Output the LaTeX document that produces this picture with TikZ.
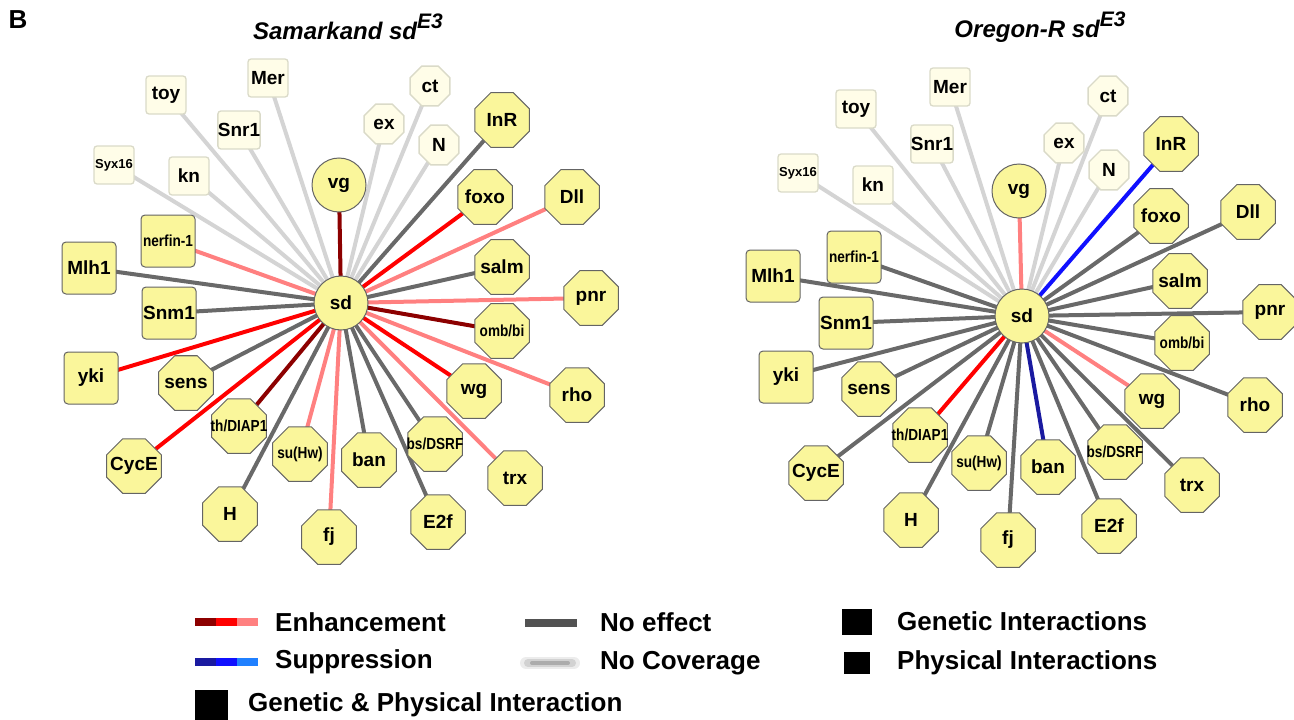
\documentclass[tikz,border=0pt]{standalone}
\usepackage{fontspec}
\setmainfont{Liberation Sans}
\newfontfamily\narrowfont[FakeStretch=0.85]{Liberation Sans}
\usetikzlibrary{shapes.geometric}

\definecolor{yfill}{RGB}{250,246,155}
\definecolor{yline}{RGB}{100,100,100}
\definecolor{palefill}{RGB}{255,253,232}
\definecolor{paleline}{RGB}{218,218,200}
\definecolor{nocovc}{RGB}{212,212,212}
\definecolor{noeffc}{RGB}{105,105,105}
\definecolor{enhA}{RGB}{140,0,0}
\definecolor{enhB}{RGB}{255,0,0}
\definecolor{enhC}{RGB}{255,128,128}
\definecolor{supA}{RGB}{26,26,160}
\definecolor{supB}{RGB}{16,16,255}
\definecolor{supC}{RGB}{32,128,255}

\pgfdeclarelayer{bg}
\pgfsetlayers{bg,main}

\tikzset{
    lbl/.style={font=\bfseries\fontsize{19}{19}\selectfont, inner sep=0pt},
    thin lbl/.style={font=\narrowfont\bfseries\fontsize{16}{16}\selectfont, inner sep=-12pt},
    palebox/.style={lbl, draw=paleline, fill=palefill, line width=1.3pt, rounded corners=3pt, minimum width=40pt, minimum height=38pt},
    paleocto/.style={lbl, regular polygon, regular polygon sides=8, draw=paleline, fill=palefill, line width=1.3pt, minimum size=43pt},
    ybox/.style={lbl, draw=yline, fill=yfill, line width=1pt, rounded corners=4pt, minimum width=54pt, minimum height=52pt},
    octo/.style={lbl, regular polygon, regular polygon sides=8, draw=yline, fill=yfill, line width=1pt, minimum size=59pt, inner sep=-8pt},
    circ/.style={lbl, circle, draw=yline, fill=yfill, line width=1pt, minimum size=54pt},
    link/.style={line width=4pt},
    nocovlink/.style={link, draw=nocovc},
    noefflink/.style={link, draw=noeffc},
    enhAlink/.style={link, draw=enhA},
    enhBlink/.style={link, draw=enhB},
    enhClink/.style={link, draw=enhC},
    supAlink/.style={link, draw=supA},
    supBlink/.style={link, draw=supB},
    legtext/.style={anchor=west, inner sep=0pt, font=\bfseries\fontsize{26}{26}\selectfont}
}

\begin{document}
\begin{tikzpicture}[x=1pt, y=-1pt]
    \useasboundingbox (0,0) rectangle (1294,720);

    % headings
    \node[font=\bfseries\fontsize{26}{26}\selectfont] (panel) at (18,20) {B};
    \node[font=\bfseries\itshape\fontsize{24}{24}\selectfont] (s-title) at (348,27)
        {Samarkand sd\raisebox{0.45em}{\fontsize{21}{21}\selectfont E3}};
    \node[font=\bfseries\itshape\fontsize{24}{24}\selectfont] (o-title) at (1040,27)
        {Oregon-R sd\raisebox{0.45em}{\fontsize{21}{21}\selectfont E3}};

    % Samarkand network
    \node[circ] (s-sd) at (341,303) {sd};
    \node[circ] (s-vg) at (339,185) {vg};
    \node[palebox] (s-toy) at (166,95) {toy};
    \node[palebox] (s-Mer) at (268,78) {Mer};
    \node[palebox] (s-Snr1) at (239,130) {Snr1};
    \node[palebox, font=\bfseries\fontsize{13}{13}\selectfont] (s-Syx16) at (114,165) {Syx16};
    \node[palebox] (s-kn) at (189,176) {kn};
    \node[paleocto] (s-ex) at (384,124) {ex};
    \node[paleocto] (s-ct) at (430,86) {ct};
    \node[paleocto] (s-N) at (439,145) {N};
    \node[octo] (s-InR) at (502,120) {InR};
    \node[octo] (s-foxo) at (485,197) {foxo};
    \node[octo] (s-Dll) at (572,197) {Dll};
    \node[ybox, thin lbl] (s-nerfin) at (168,241) {nerfin-1};
    \node[ybox] (s-Mlh1) at (89,268) {Mlh1};
    \node[octo] (s-salm) at (502,267) {salm};
    \node[octo] (s-pnr) at (591,298) {pnr};
    \node[ybox] (s-Snm1) at (169,313) {Snm1};
    \node[octo, thin lbl] (s-omb) at (502,331) {omb/bi};
    \node[ybox] (s-yki) at (91,378) {yki};
    \node[octo] (s-sens) at (186,383) {sens};
    \node[octo] (s-wg) at (474,391) {wg};
    \node[octo] (s-rho) at (577,395) {rho};
    \node[octo, thin lbl] (s-th) at (239,426) {th/DIAP1};
    \node[octo, thin lbl] (s-suHw) at (300,454) {su(Hw)};
    \node[octo] (s-ban) at (369,460) {ban};
    \node[octo, thin lbl] (s-bs) at (435,444) {bs/DSRF};
    \node[octo] (s-trx) at (515,478) {trx};
    \node[octo] (s-CycE) at (134,466) {CycE};
    \node[octo] (s-H) at (230,514) {H};
    \node[octo] (s-fj) at (329,537) {fj};
    \node[octo] (s-E2f) at (438,522) {E2f};

    % Oregon-R network
    \node[circ] (o-sd) at (1022,316) {sd};
    \node[circ] (o-vg) at (1019,191) {vg};
    \node[palebox] (o-toy) at (856,109) {toy};
    \node[palebox] (o-Mer) at (950,87) {Mer};
    \node[palebox] (o-Snr1) at (932,144) {Snr1};
    \node[palebox, font=\bfseries\fontsize{13}{13}\selectfont] (o-Syx16) at (798,173) {Syx16};
    \node[palebox] (o-kn) at (873,185) {kn};
    \node[paleocto] (o-ex) at (1064,143) {ex};
    \node[paleocto] (o-ct) at (1108,96) {ct};
    \node[paleocto] (o-N) at (1109,170) {N};
    \node[octo] (o-InR) at (1171,144) {InR};
    \node[octo] (o-foxo) at (1161,216) {foxo};
    \node[octo] (o-Dll) at (1248,212) {Dll};
    \node[ybox, thin lbl] (o-nerfin) at (854,257) {nerfin-1};
    \node[ybox] (o-Mlh1) at (773,276) {Mlh1};
    \node[octo] (o-salm) at (1180,281) {salm};
    \node[octo] (o-pnr) at (1270,312) {pnr};
    \node[ybox] (o-Snm1) at (846,323) {Snm1};
    \node[octo, thin lbl] (o-omb) at (1182,343) {omb/bi};
    \node[ybox] (o-yki) at (786,377) {yki};
    \node[octo] (o-sens) at (869,389) {sens};
    \node[octo] (o-wg) at (1152,401) {wg};
    \node[octo] (o-rho) at (1255,405) {rho};
    \node[octo, thin lbl] (o-th) at (920,435) {th/DIAP1};
    \node[octo, thin lbl] (o-suHw) at (979,463) {su(Hw)};
    \node[octo] (o-ban) at (1048,467) {ban};
    \node[octo, thin lbl] (o-bs) at (1115,452) {bs/DSRF};
    \node[octo] (o-trx) at (1192,485) {trx};
    \node[octo] (o-CycE) at (816,473) {CycE};
    \node[octo] (o-H) at (911,520) {H};
    \node[octo] (o-fj) at (1008,540) {fj};
    \node[octo] (o-E2f) at (1109,526) {E2f};

    % links, behind the nodes
    \begin{pgfonlayer}{bg}
        \foreach \n/\k in {toy/nocov, Mer/nocov, Snr1/nocov, Syx16/nocov, kn/nocov,
                ex/nocov, ct/nocov, N/nocov, vg/enhA, InR/noeff, foxo/enhB, Dll/enhC,
                nerfin/enhC, Mlh1/noeff, salm/noeff, pnr/enhC, Snm1/noeff, omb/enhA,
                yki/enhB, sens/noeff, wg/enhB, rho/enhC, th/enhA, CycE/enhB, H/noeff,
                suHw/enhC, fj/enhC, ban/noeff, bs/noeff, E2f/noeff, trx/enhC}
            \draw[\k link] (s-sd.center) -- (s-\n.center);
        \foreach \n/\k in {toy/nocov, Mer/nocov, Snr1/nocov, Syx16/nocov, kn/nocov,
                ex/nocov, ct/nocov, N/nocov, vg/enhC, InR/supB, foxo/noeff, Dll/noeff,
                nerfin/noeff, Mlh1/noeff, salm/noeff, pnr/noeff, Snm1/noeff, omb/noeff,
                yki/noeff, sens/noeff, wg/enhC, rho/noeff, th/enhB, CycE/noeff, H/noeff,
                suHw/noeff, fj/noeff, ban/supA, bs/noeff, E2f/noeff, trx/noeff}
            \draw[\k link] (o-sd.center) -- (o-\n.center);
    \end{pgfonlayer}

    % legend
    \fill[fill=enhA] (195,618) rectangle (216,626);
    \fill[fill=enhB] (216,618) rectangle (237,626);
    \fill[fill=enhC] (237,618) rectangle (258,626);
    \node[legtext] (lg-enh) at (275,622) {Enhancement};
    \fill[fill=supA] (195,658) rectangle (216,666);
    \fill[fill=supB] (216,658) rectangle (237,666);
    \fill[fill=supC] (237,658) rectangle (258,666);
    \node[legtext] (lg-sup) at (275,662) {Suppression};
    \fill[black!68] (525,619) rectangle (577,627);
    \node[legtext] (lg-noeff) at (600,622) {No effect};
    \draw[line width=12pt, gray!15, line cap=round] (526,663) -- (574,663);
    \draw[line width=8pt, gray!35, line cap=round] (528,663) -- (572,663);
    \draw[line width=4pt, gray!65, line cap=round] (532,663) -- (568,663);
    \node[legtext] (lg-nocov) at (600,663) {No Coverage};
    \fill[black] (842,609) rectangle (872,635);
    \node[legtext] (lg-gen) at (897,621) {Genetic Interactions};
    \fill[black] (844,652) rectangle (870,674);
    \node[legtext] (lg-phys) at (897,663) {Physical Interactions};
    \fill[black] (195,690) rectangle (228,720);
    \node[legtext] (lg-both) at (248,705) {Genetic \& Physical Interaction};
\end{tikzpicture}
\end{document}
